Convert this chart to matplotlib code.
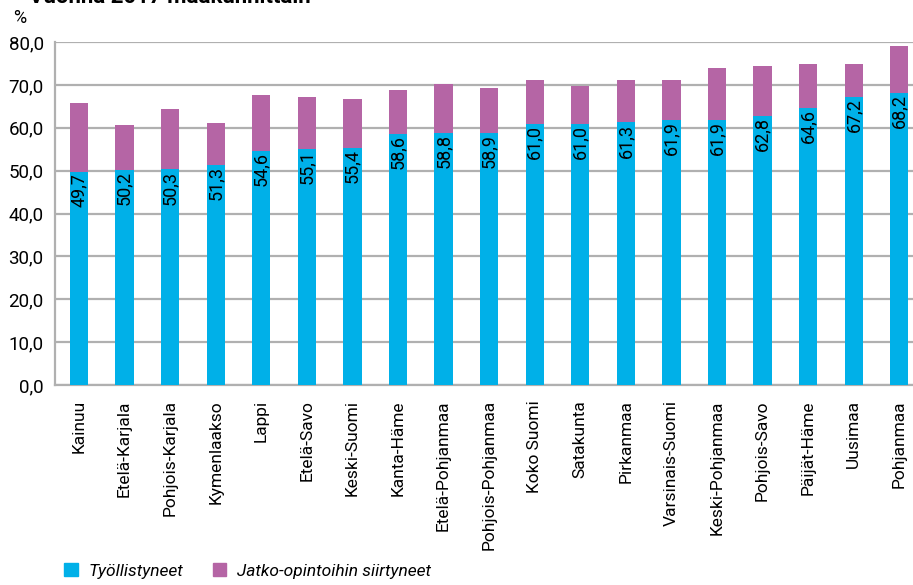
import matplotlib
matplotlib.use('Agg')
import matplotlib.pyplot as plt
from matplotlib.ticker import FuncFormatter
from matplotlib.patches import Patch

# data
regions = ['Kainuu', 'Etelä-Karjala', 'Pohjois-Karjala', 'Kymenlaakso', 'Lappi',
           'Etelä-Savo', 'Keski-Suomi', 'Kanta-Häme', 'Etelä-Pohjanmaa',
           'Pohjois-Pohjanmaa', 'Koko Suomi', 'Satakunta', 'Pirkanmaa',
           'Varsinais-Suomi', 'Keski-Pohjanmaa', 'Pohjois-Savo', 'Päijät-Häme',
           'Uusimaa', 'Pohjanmaa']
employed = [49.7, 50.2, 50.3, 51.3, 54.6, 55.1, 55.4, 58.6, 58.8, 58.9,
            61.0, 61.0, 61.3, 61.9, 61.9, 62.8, 64.6, 67.2, 68.2]
studies = [16.1, 10.5, 14.1, 9.8, 13.1, 12.1, 11.3, 10.2, 11.4, 10.4,
           10.2, 8.8, 9.9, 9.3, 12.1, 11.6, 10.3, 7.7, 10.9]
yticks = [0, 10, 20, 30, 40, 50, 60, 70, 80]

blue = '#00b0e8'
purple = '#b565a5'
grid_c = '#b0b0b0'

plt.rcParams['font.family'] = ['Roboto', 'DejaVu Sans']

fig = plt.figure(figsize=(9.13, 5.85), dpi=100)
ax = fig.add_axes([0.060, 0.342, 0.940, 0.586])

x = list(range(len(regions)))
ax.bar(x, employed, width=0.4, color=blue, zorder=3)
ax.bar(x, studies, width=0.4, bottom=employed, color=purple, zorder=3)

# value labels inside the blue part, reading upwards
for i, v in enumerate(employed):
    ax.text(i, v - 0.3, ('%.1f' % v).replace('.', ','), rotation=90,
            ha='center', va='top', fontsize=13, color='black', zorder=4)

ax.set_ylim(0, 80)
ax.set_xlim(-0.53, 18.3)
ax.set_yticks(yticks)
ax.yaxis.set_major_formatter(FuncFormatter(lambda v, p: ('%.1f' % v).replace('.', ',')))
ax.set_xticks(x)
ax.set_xticklabels(regions, rotation=90)
ax.tick_params(axis='y', length=0, pad=8, labelsize=13.5)
ax.tick_params(axis='x', length=0, pad=11, labelsize=12.5)
ax.grid(axis='y', color=grid_c, linewidth=1.6, zorder=0)
for s in ['top', 'right']:
    ax.spines[s].set_visible(False)
for s in ['left', 'bottom']:
    ax.spines[s].set_color(grid_c)
    ax.spines[s].set_linewidth(1.6)

fig.text(0.022, 0.97, '%', fontsize=13, ha='center', va='center')
fig.text(0.032, 1 - 3/585, 'Vuonna 2017 maakunnittain', fontsize=16,
         fontweight='bold', va='baseline')

handles = [Patch(color=blue, label='Työllistyneet'),
           Patch(color=purple, label='Jatko-opintoihin siirtyneet')]
fig.legend(handles=handles, loc='center left', bbox_to_anchor=(0.053, 0.024),
           ncol=2, frameon=False, prop={'size': 12.5, 'style': 'italic'},
           handlelength=0.8, handleheight=0.8, columnspacing=1.7, handletextpad=0.6)

plt.savefig('out.png', dpi=100)
